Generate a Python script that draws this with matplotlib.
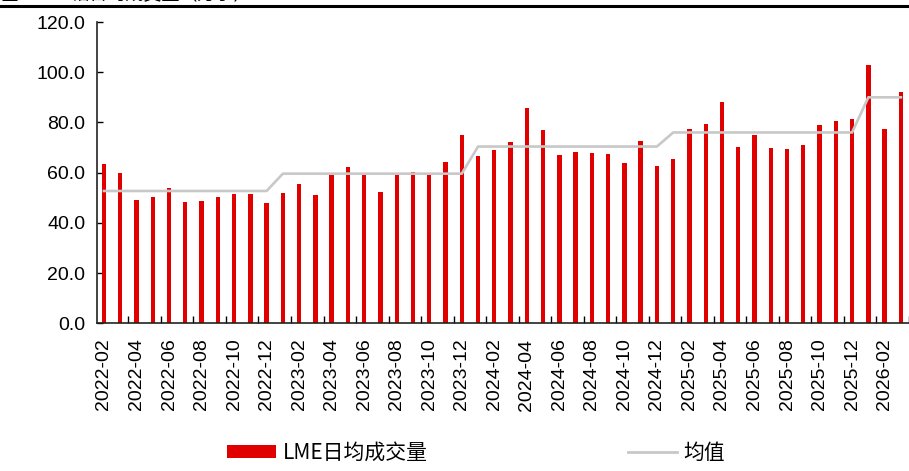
import matplotlib
matplotlib.use("Agg")
import matplotlib.pyplot as plt
from matplotlib.patches import Patch
from matplotlib.lines import Line2D
import numpy as np

# ---- data ----
months = [f"{y}-{m:02d}" for y in range(2022, 2027) for m in range(1, 13)]
months = months[months.index("2022-02"):months.index("2026-03") + 1]

volume = [63.3, 60.0, 49.1, 50.4, 54.0, 48.4, 48.8, 50.5, 51.5, 51.5, 48.0,
          51.9, 55.6, 51.1, 59.1, 62.1, 59.1, 52.4, 59.1, 60.3, 59.1, 64.3, 74.9,
          66.8, 68.9, 72.4, 85.6, 77.1, 67.1, 68.1, 67.9, 67.6, 63.7, 72.7, 62.7,
          65.6, 77.5, 79.5, 88.0, 70.4, 74.8, 69.9, 69.6, 71.2, 79.1, 80.4, 81.5,
          102.7, 77.2, 92.1]

year_means = {"2022": 52.7, "2023": 59.6, "2024": 70.4, "2025": 76.0, "2026": 90.0}
mean_line = [year_means[m[:4]] for m in months]

bar_label = "LME日均成交量"
line_label = "均值"
title = "图：LME铝日均成交量（万手）"

# ---- figure ----
W, H = 909, 471
fig = plt.figure(figsize=(W / 100, H / 100), dpi=100)
ax = fig.add_axes([96.5 / W, 1 - 323.3 / H, (W - 96.5) / W, (323.3 - 22) / H])

x = np.arange(len(months))
red = "#E10000"
gray = "#C8C8C8"
ax.bar(x, volume, width=0.27, color=red, zorder=2)
ax.plot(x, mean_line, color=gray, lw=1.9, zorder=3)

ax.set_xlim(-0.46, 49.39)
ax.set_ylim(0, 120)
ax.set_yticks(np.arange(0, 121, 20))
ax.set_yticklabels([f"{v:.1f}" for v in np.arange(0, 121, 20)],
                   fontsize=14, family="Liberation Sans")
ax.tick_params(axis="y", direction="in", length=4, width=1, pad=8)

ax.set_xticks(x[::2])
ax.set_xticklabels(months[::2], rotation=90, fontsize=14, family="Liberation Sans")
ax.set_xticks(np.arange(1.5, len(months), 2), minor=True)
ax.tick_params(axis="x", which="major", length=0, pad=11)
ax.tick_params(axis="x", which="minor", direction="in", length=5, width=1)

for s in ["top", "right"]:
    ax.spines[s].set_visible(False)
for s in ["left", "bottom"]:
    ax.spines[s].set_color("#222222")
    ax.spines[s].set_linewidth(1.2)

handles = [Patch(facecolor=red, edgecolor="none"),
           Line2D([0], [0], color=gray, lw=2)]
fig.legend(handles, [bar_label, line_label], ncol=2, frameon=False,
           loc="center", bbox_to_anchor=(476 / W, 1 - 453 / H),
           prop={"family": ["Noto Sans CJK SC", "DejaVu Sans"], "size": 15},
           handlelength=2.35, handleheight=0.55, handletextpad=0.3,
           columnspacing=9.6)

# top header line and clipped title
fig.add_artist(Line2D([0, 1], [1 - 5.7 / H, 1 - 5.7 / H], color="black", lw=2.2,
                      transform=fig.transFigure))
fig.text(0.0, 1 - 4 / H, title, fontsize=13, va="bottom", ha="left",
         family=["Noto Sans CJK SC", "DejaVu Sans"])

fig.savefig("out.png", dpi=100)
